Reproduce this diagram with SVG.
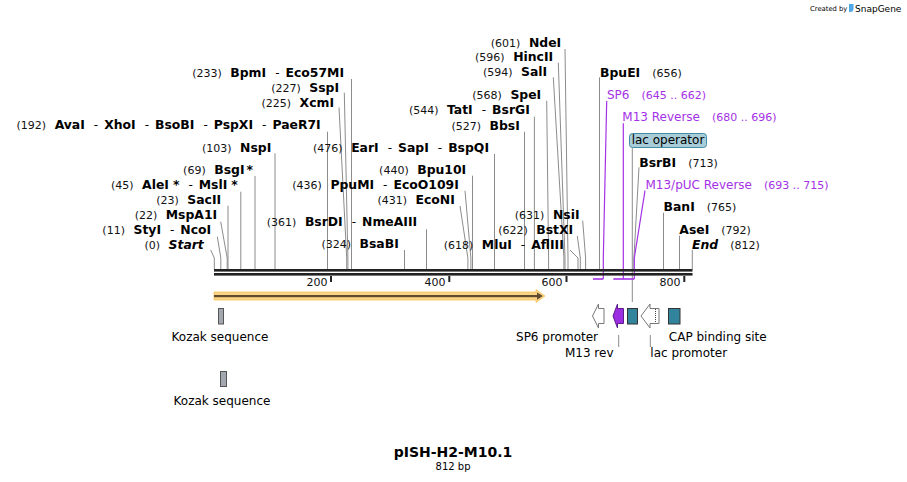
<svg xmlns="http://www.w3.org/2000/svg" width="907" height="482" viewBox="0 0 907 482">
<style>
text { font-family: "DejaVu Sans", Verdana, sans-serif; fill: #000; }
.n { font-size: 11px; fill: #111; }
.b { font-size: 12.4px; font-weight: bold; }
.s { font-size: 12px; }
.bi { font-size: 12.4px; font-weight: bold; font-style: italic; }
.lab { font-size: 12px; }
.p { font-size: 12px; fill: #a431e6; }
.pn { font-size: 11px; fill: #a431e6; }
.cut { fill: none; stroke: #8c8c8c; stroke-width: 1; }
.pl { fill: none; stroke: #a431e6; stroke-width: 1.2; }
.ph { fill: none; stroke: #a431e6; stroke-width: 1.6; }
.lead { fill: none; stroke: #8c8c8c; stroke-width: 1; }
.tk { fill: #222; }
.teal { fill: #31849b; stroke: #333; stroke-width: 1; }
.wa { fill: #fff; stroke: #777; stroke-width: 1; }
</style>

<g id="connectors">
  <path class="cut" d="M351.5,79 V269"/>
  <path class="cut" d="M344.3,92.7 L347.9,258 V269"/>
  <path class="cut" d="M339,107.5 L346.7,258 V269"/>
  <path class="cut" d="M327.5,131.7 V269"/>
  <path class="cut" d="M275,153.3 V269"/>
  <path class="cut" d="M494.5,154 V269"/>
  <path class="cut" d="M255,176 V269"/>
  <path class="cut" d="M240.8,191.7 V269"/>
  <path class="cut" d="M465,190.7 L470.9,258 V269"/>
  <path class="cut" d="M472.5,175.7 V269"/>
  <path class="cut" d="M460,206 L467.9,258 V269"/>
  <path class="cut" d="M228,205.7 V269"/>
  <path class="cut" d="M220.7,221.7 L227.2,258 V269"/>
  <path class="cut" d="M426.5,229.3 V269"/>
  <path class="cut" d="M217.3,236.7 L220.8,258 V269"/>
  <path class="cut" d="M210.7,250 L214.3,258 V269"/>
  <path class="cut" d="M404.5,250 V269"/>
  <path class="cut" d="M570,250 L578,258 V269"/>
  <path class="cut" d="M565,49 L568,258 V269"/>
  <path class="cut" d="M558.3,62.7 L565,258 V269"/>
  <path class="cut" d="M553.3,77.3 L563.9,258 V269"/>
  <path class="cut" d="M546.7,100.7 L548.6,258 V269"/>
  <path class="cut" d="M534.4,116.7 V269"/>
  <path class="cut" d="M524.5,131.7 V269"/>
  <path class="cut" d="M582.7,220.7 L585.6,258 V269"/>
  <path class="cut" d="M577.3,236 L580.3,258 V269"/>
  <path class="cut" d="M599.5,77.3 V269"/>
  <path class="cut" d="M639,167.3 L633.9,258 V269"/>
  <path class="cut" d="M663.5,212.7 V269"/>
  <path class="cut" d="M679.5,235.7 V269"/>
  <path class="cut" d="M692.3,250 V269"/>
  <path class="lead" d="M632.3,148 V302"/>
  <path class="pl" d="M606.7,101 L603.3,258 V279"/>
  <path class="pl" d="M623.3,123.3 V279"/>
  <path class="pl" d="M645,190.7 L634.3,258 V279"/>
  <path class="ph" d="M593,279 H603.3"/>
  <path class="ph" d="M613.3,279 H634.3"/>
  <path class="lead" d="M618.7,335 V347"/>
  <path class="lead" d="M650.3,335 V347"/>
</g>

<g id="sequence">
  <rect x="214" y="269" width="478.5" height="2.6" fill="#222"/>
  <rect x="214" y="273" width="478.5" height="2.6" fill="#222"/>
  <rect class="tk" x="330" y="276" width="2" height="6"/>
  <rect class="tk" x="448.3" y="276" width="2" height="6"/>
  <rect class="tk" x="565.5" y="276" width="2" height="6"/>
  <rect class="tk" x="683.3" y="276" width="2" height="6"/>
  <text class="n" x="327.5" y="285.5" text-anchor="end">200</text>
  <text class="n" x="445.5" y="285.5" text-anchor="end">400</text>
  <text class="n" x="562.5" y="285.5" text-anchor="end">600</text>
  <text class="n" x="680.5" y="285.5" text-anchor="end">800</text>
</g>

<g id="enzymes">
  <text x="344" y="76.7" text-anchor="end"><tspan class="n">(233)</tspan><tspan class="b" dx="8.5">BpmI</tspan><tspan class="s" dx="9">-</tspan><tspan class="b" dx="6">Eco57MI</tspan></text>
  <text x="339" y="91.7" text-anchor="end"><tspan class="n">(227)</tspan><tspan class="b" dx="8.5">SspI</tspan></text>
  <text x="334" y="107" text-anchor="end"><tspan class="n">(225)</tspan><tspan class="b" dx="8.5">XcmI</tspan></text>
  <text x="320.7" y="129.4" text-anchor="end"><tspan class="n">(192)</tspan><tspan class="b" dx="8.5">AvaI</tspan><tspan class="s" dx="9">-</tspan><tspan class="b" dx="6">XhoI</tspan><tspan class="s" dx="9">-</tspan><tspan class="b" dx="6">BsoBI</tspan><tspan class="s" dx="9">-</tspan><tspan class="b" dx="6">PspXI</tspan><tspan class="s" dx="9">-</tspan><tspan class="b" dx="6">PaeR7I</tspan></text>
  <text x="271.3" y="151.7" text-anchor="end"><tspan class="n">(103)</tspan><tspan class="b" dx="8.5">NspI</tspan></text>
  <text x="489" y="151.7" text-anchor="end"><tspan class="n">(476)</tspan><tspan class="b" dx="8.5">EarI</tspan><tspan class="s" dx="9">-</tspan><tspan class="b" dx="6">SapI</tspan><tspan class="s" dx="9">-</tspan><tspan class="b" dx="6">BspQI</tspan></text>
  <text x="253" y="173.7" text-anchor="end"><tspan class="n">(69)</tspan><tspan class="b" dx="8.5">BsgI</tspan><tspan class="b" dx="2">*</tspan></text>
  <text x="237.8" y="189.4" text-anchor="end"><tspan class="n">(45)</tspan><tspan class="b" dx="8.5">AleI</tspan><tspan class="b" dx="4">*</tspan><tspan class="s" dx="9">-</tspan><tspan class="b" dx="6">MslI</tspan><tspan class="b" dx="4">*</tspan></text>
  <text x="458.8" y="188.7" text-anchor="end"><tspan class="n">(436)</tspan><tspan class="b" dx="8.5">PpuMI</tspan><tspan class="s" dx="9">-</tspan><tspan class="b" dx="6">EcoO109I</tspan></text>
  <text x="466.2" y="174.4" text-anchor="end"><tspan class="n">(440)</tspan><tspan class="b" dx="8.5">Bpu10I</tspan></text>
  <text x="454.8" y="203.7" text-anchor="end"><tspan class="n">(431)</tspan><tspan class="b" dx="8.5">EcoNI</tspan></text>
  <text x="221.2" y="203.7" text-anchor="end"><tspan class="n">(23)</tspan><tspan class="b" dx="8.5">SacII</tspan></text>
  <text x="217.2" y="219.4" text-anchor="end"><tspan class="n">(22)</tspan><tspan class="b" dx="8.5">MspA1I</tspan></text>
  <text x="417.2" y="226" text-anchor="end"><tspan class="n">(361)</tspan><tspan class="b" dx="8.5">BsrDI</tspan><tspan class="s" dx="9">-</tspan><tspan class="b" dx="6">NmeAIII</tspan></text>
  <text x="211.2" y="234.4" text-anchor="end"><tspan class="n">(11)</tspan><tspan class="b" dx="8.5">StyI</tspan><tspan class="s" dx="9">-</tspan><tspan class="b" dx="6">NcoI</tspan></text>
  <text x="203.8" y="248.7" text-anchor="end"><tspan class="n">(0)</tspan><tspan class="bi" dx="8.5">Start</tspan></text>
  <text x="398.8" y="248.4" text-anchor="end"><tspan class="n">(324)</tspan><tspan class="b" dx="8.5">BsaBI</tspan></text>
  <text x="563.8" y="248.7" text-anchor="end"><tspan class="n">(618)</tspan><tspan class="b" dx="8.5">MluI</tspan><tspan class="s" dx="9">-</tspan><tspan class="b" dx="6">AflIII</tspan></text>
  <text x="561.2" y="46.7" text-anchor="end"><tspan class="n">(601)</tspan><tspan class="b" dx="8.5">NdeI</tspan></text>
  <text x="553.2" y="61" text-anchor="end"><tspan class="n">(596)</tspan><tspan class="b" dx="8.5">HincII</tspan></text>
  <text x="547.2" y="76" text-anchor="end"><tspan class="n">(594)</tspan><tspan class="b" dx="8.5">SalI</tspan></text>
  <text x="541.2" y="98.7" text-anchor="end"><tspan class="n">(568)</tspan><tspan class="b" dx="8.5">SpeI</tspan></text>
  <text x="529.8" y="114.4" text-anchor="end"><tspan class="n">(544)</tspan><tspan class="b" dx="8.5">TatI</tspan><tspan class="s" dx="9">-</tspan><tspan class="b" dx="6">BsrGI</tspan></text>
  <text x="519.8" y="130" text-anchor="end"><tspan class="n">(527)</tspan><tspan class="b" dx="8.5">BbsI</tspan></text>
  <text x="579.5" y="218.7" text-anchor="end"><tspan class="n">(631)</tspan><tspan class="b" dx="8.5">NsiI</tspan></text>
  <text x="573.2" y="234.4" text-anchor="end"><tspan class="n">(622)</tspan><tspan class="b" dx="8.5">BstXI</tspan></text>
  <text x="600" y="76.7"><tspan class="b">BpuEI</tspan><tspan class="n" dx="12">(656)</tspan></text>
  <text x="639.2" y="166.7"><tspan class="b">BsrBI</tspan><tspan class="n" dx="12">(713)</tspan></text>
  <text x="663.5" y="211"><tspan class="b">BanI</tspan><tspan class="n" dx="12">(765)</tspan></text>
  <text x="679.3" y="234.4"><tspan class="b">AseI</tspan><tspan class="n" dx="12">(792)</tspan></text>
  <text x="692" y="248.7"><tspan class="bi">End</tspan><tspan class="n" dx="12">(812)</tspan></text>
</g>

<g id="primers">
  <text x="607" y="99.4"><tspan class="p">SP6</tspan><tspan class="pn" dx="12">(645 .. 662)</tspan></text>
  <text x="622.3" y="121"><tspan class="p">M13 Reverse</tspan><tspan class="pn" dx="12">(680 .. 696)</tspan></text>
  <text x="645.5" y="189.4"><tspan class="p">M13/pUC Reverse</tspan><tspan class="pn" dx="12">(693 .. 715)</tspan></text>
</g>

<g id="lac-operator-label">
  <rect x="629.5" y="133.5" width="77" height="14" rx="3" fill="#a8cdd8" stroke="#3f8ea4" stroke-width="1"/>
  <text class="lab" x="668" y="144.3" text-anchor="middle">lac operator</text>
</g>

<g id="orf">
  <polygon points="214,292 536,292 536,289.5 545,296 536,302.5 536,300 214,300" fill="#fbd384" stroke="#f6c45e" stroke-width="0.8"/>
  <rect x="214" y="295" width="324" height="2.2" fill="#5e4b30"/>
  <polygon points="537,292.5 542.8,296.1 537,299.7" fill="#5e4b30"/>
</g>

<g id="kozak-1">
  <rect x="218.5" y="308.5" width="5" height="15.5" fill="#a3a8b0" stroke="#555" stroke-width="1"/>
  <text class="lab" x="220" y="341.3" text-anchor="middle">Kozak sequence</text>
</g>

<g id="kozak-2">
  <rect x="220.5" y="371.5" width="6" height="15" fill="#a3a8b0" stroke="#555" stroke-width="1"/>
  <text class="lab" x="222" y="404.5" text-anchor="middle">Kozak sequence</text>
</g>

<g id="sp6-promoter">
  <polygon class="wa" points="592.5,316 598.5,304 598.5,308.5 604,308.5 604,323.5 598.5,323.5 598.5,328"/>
  <text class="lab" x="598" y="341.3" text-anchor="end">SP6 promoter</text>
</g>

<g id="m13-rev">
  <polygon points="613,316 617.5,304 617.5,308.5 623.5,308.5 623.5,323.5 617.5,323.5 617.5,328" fill="#9a2ee0" stroke="#5d1a8c" stroke-width="1"/>
  <text class="lab" x="613.5" y="357" text-anchor="end">M13 rev</text>
</g>

<g id="lac-operator">
  <rect class="teal" x="627.5" y="308.5" width="10" height="15.5"/>
</g>

<g id="lac-promoter">
  <polygon class="wa" points="641,316 650,304 650,308.5 659,308.5 659,323.5 650,323.5 650,328"/>
  <path d="M655.5,309 V323" stroke="#444" stroke-width="1" stroke-dasharray="1,1" fill="none"/>
  <text class="lab" x="650.3" y="357">lac promoter</text>
</g>

<g id="cap-binding-site">
  <rect class="teal" x="668.5" y="308.5" width="11.5" height="15.5"/>
  <text class="lab" x="668.8" y="341.3">CAP binding site</text>
</g>

<g id="title">
  <text x="453" y="456.5" text-anchor="middle" font-size="14" font-weight="bold">pISH-H2-M10.1</text>
  <text x="453" y="470" text-anchor="middle" font-size="10" fill="#222">812 bp</text>
</g>

<g id="credit">
  <text x="810" y="11" font-size="6.8" fill="#b4b4b4">Created by</text>
  <path d="M849,4 h4.5 v4.5 q0,3.5 -3.5,3.5 h-1 z" fill="#4fa8e8"/>
  <text x="855" y="12" font-size="9" fill="#9a9a9a">SnapGene</text>
</g>
</svg>
